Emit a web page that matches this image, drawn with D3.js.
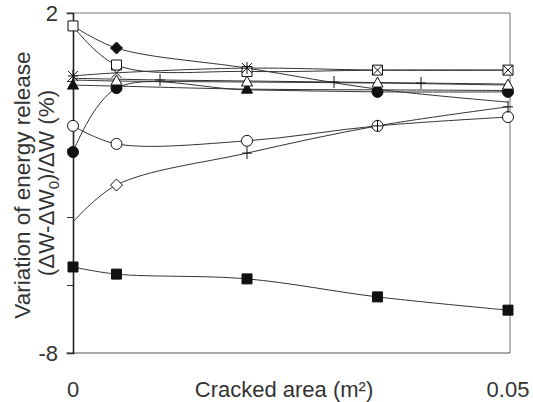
<!DOCTYPE html>
<html>
<head>
<meta charset="utf-8">
<script src="https://d3js.org/d3.v7.min.js"></script>
<style>
body { margin: 0; background: #fff; }
text { font-family: "Liberation Sans", Arial, sans-serif; fill: #333; }
.line { fill: none; stroke: #333; stroke-width: 1; }
</style>
</head>
<body>
<svg id="chart" width="533" height="402"></svg>
<script>

// x positions (cracked area, m2)
var xs = [0, 0.005, 0.02, 0.035, 0.05];
var xsTick = [0, 0.01, 0.02, 0.03, 0.04, 0.05];

// series values (%)
var openSquare   = [1.62, 0.47, 0.28, 0.32, 0.32];
var filledDiam   = [1.62, 0.97, 0.38, -0.24, -0.62];
var crossX       = [0.15, 0.24, 0.38, 0.32, 0.32];
var openTri      = [0.03, 0.0, -0.03, -0.06, -0.12];
var filledTri    = [-0.12, -0.15, -0.24, -0.26, -0.28];
var filledCirc   = [-2.09, -0.21, -0.26, -0.32, -0.32];
var openCirc     = [-1.32, -1.85, -1.76, -1.32, -1.06];
var plusSeries   = [-4.15, -3.06, -2.12, -1.32, -0.76];
var tickSeries   = [0.08, 0.03, 0.0, -0.03, -0.06, -0.09];
var filledSquare = [-5.47, -5.68, -5.82, -6.35, -6.74];

var yTicks = [2, 0, -2, -4, -6, -8];
var yLabels = [2, -8];
var xLabels = [0, 0.05];

// line: false -> markers only (overlay on another series)
var series = [
  {v: filledSquare, x: xs, m: "square", fill: "#111", show: [1,1,1,1,1], line: true},
  {v: plusSeries, x: xs, m: "diamond", fill: "#fff", show: [0,1,0,0,0], line: false},
  {v: openCirc, x: xs, m: "circle", fill: "#fff", show: [1,1,1,1,1], line: true},
  {v: plusSeries, x: xs, m: "plus", fill: "none", show: [0,0,1,1,1], line: true},
  {v: filledCirc, x: xs, m: "circle", fill: "#111", show: [1,1,0,1,1], line: true},
  {v: tickSeries, x: xsTick, m: "plus", fill: "none", show: [0,1,0,1,1,0], line: true},
  {v: filledTri, x: xs, m: "triangle", fill: "#111", show: [1,0,1,0,0], line: true},
  {v: openTri, x: xs, m: "triangle", fill: "#fff", show: [0,1,1,1,1], line: true},
  {v: filledDiam, x: xs, m: "diamond", fill: "#111", show: [0,1,0,0,0], line: true},
  {v: openSquare, x: xs, m: "square", fill: "#fff", show: [1,1,1,1,1], line: true},
  {v: crossX, x: xs, m: "cross", fill: "none", show: [1,1,1,1,1], line: true},
  {v: crossX, x: xs, m: "plus", fill: "none", show: [1,0,1,0,0], line: false}
];

var svg = d3.select("#chart");

var x = d3.scaleLinear().domain([0, 0.05]).range([73, 508]);
var y = d3.scaleLinear().domain([-8, 2]).range([353, 13]);

// frame
svg.append("line").attr("x1", 66).attr("x2", 510).attr("y1", 13).attr("y2", 13)
  .attr("stroke", "#777").attr("stroke-width", 1.2);
svg.append("line").attr("x1", 510).attr("x2", 510).attr("y1", 13).attr("y2", 353)
  .attr("stroke", "#888").attr("stroke-width", 1.2);
svg.append("line").attr("x1", 66).attr("x2", 510).attr("y1", 353).attr("y2", 353)
  .attr("stroke", "#555").attr("stroke-width", 1.2);

// y axis
var yAxis = svg.append("g")
  .attr("transform", "translate(73,0)")
  .call(d3.axisLeft(y).tickValues(yTicks).tickSize(6).tickFormat(""));
yAxis.select(".domain").attr("stroke", "#222").attr("stroke-width", 1.6);
yAxis.selectAll(".tick line").attr("stroke", "#333");

svg.selectAll(".ylab").data(yLabels).enter().append("text")
  .attr("class", "ylab")
  .attr("x", 58).attr("y", function(d){ return y(d) + 8; })
  .attr("text-anchor", "end")
  .style("font-size", "22px")
  .text(function(d){ return d; });

svg.selectAll(".xlab").data(xLabels).enter().append("text")
  .attr("class", "xlab")
  .attr("x", function(d){ return x(d); }).attr("y", 397)
  .attr("text-anchor", "middle")
  .style("font-size", "22px")
  .text(function(d){ return d; });

svg.append("text")
  .attr("x", 284).attr("y", 397)
  .attr("text-anchor", "middle")
  .style("font-size", "22px")
  .text("Cracked area (m²)");

// y title, two lines
svg.append("text")
  .attr("transform", "translate(30,185) rotate(-90)")
  .attr("text-anchor", "middle")
  .style("font-size", "22.5px")
  .text("Variation of energy release");

var yt2 = svg.append("text")
  .attr("transform", "translate(54,183) rotate(-90)")
  .attr("text-anchor", "middle")
  .style("font-size", "22.5px");
yt2.append("tspan").text("(ΔW-ΔW");
yt2.append("tspan").attr("dy", 5).style("font-size", "15px").text("0");
yt2.append("tspan").attr("dy", -5).text(")/ΔW (%)");

// lines
var line = d3.line()
  .x(function(d){ return x(d[0]); })
  .y(function(d){ return y(d[1]); })
  .curve(d3.curveCatmullRom.alpha(0.5));

series.forEach(function(s){
  if (!s.line) return;
  var pts = s.x.map(function(xv, i){ return [xv, s.v[i]]; });
  svg.append("path").attr("class", "line").attr("d", line(pts));
});

// markers
function shape(m){
  if (m == "square") return "M-5,-5H5V5H-5Z";
  if (m == "diamond") return "M0,-6L6,0L0,6L-6,0Z";
  if (m == "triangle") return "M0,-6L5.5,4L-5.5,4Z";
  if (m == "cross") return "M-5,-5L5,5M5,-5L-5,5";
  if (m == "plus") return "M0,-6V6M-5,0H5";
  return null;
}

series.forEach(function(s){
  s.x.forEach(function(xv, i){
    if (!s.show[i]) return;
    var cx = x(xv), cy = y(s.v[i]);
    if (s.m == "circle") {
      svg.append("circle").attr("cx", cx).attr("cy", cy).attr("r", 5.5)
        .attr("fill", s.fill).attr("stroke", "#111").attr("stroke-width", 1);
    } else {
      svg.append("path").attr("d", shape(s.m))
        .attr("transform", "translate(" + cx + "," + cy + ")")
        .attr("fill", s.fill).attr("stroke", "#111").attr("stroke-width", 1);
    }
  });
});

</script>
</body>
</html>
